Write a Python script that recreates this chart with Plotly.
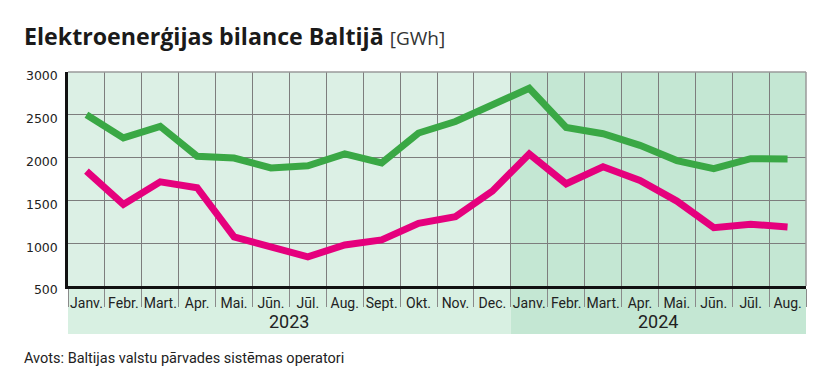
import plotly.graph_objects as go

months = ["Janv.", "Febr.", "Mart.", "Apr.", "Mai.", "Jūn.", "Jūl.", "Aug.", "Sept.", "Okt.", "Nov.", "Dec.",
          "Janv.", "Febr.", "Mart.", "Apr.", "Mai.", "Jūn.", "Jūl.", "Aug."]
years = ["2023", "2024"]
year_counts = [12, 8]

green_values = [2500, 2230, 2365, 2015, 1995, 1880, 1905, 2043, 1938, 2287, 2422, 2610,
                2810, 2352, 2279, 2143, 1965, 1872, 1988, 1985]
pink_values = [1841, 1453, 1717, 1648, 1073, 950, 841, 980, 1038, 1233, 1310, 1608,
               2043, 1694, 1892, 1733, 1492, 1182, 1221, 1190]

yticks = [500, 1000, 1500, 2000, 2500, 3000]

x = list(range(len(months)))
n = len(months)

OFF = 8  # page body margin offset
W, H = 820, 377
SL, SR, ST, SB = 68, 806, 72, 286
L, T = SL - OFF, ST - OFF
R = W - (SR - OFF)
B = H - (SB - OFF)
pw, ph = W - L - R, H - T - B

def px_x(p):
    return (p - OFF - L) / pw

def px_y(p):
    return (H - B - (p - OFF)) / ph

fig = go.Figure()
fig.add_trace(go.Scatter(x=x, y=green_values, mode="lines",
                         line=dict(color="#3aa845", width=7), hoverinfo="skip"))
fig.add_trace(go.Scatter(x=x, y=pink_values, mode="lines",
                         line=dict(color="#e5007d", width=7), hoverinfo="skip"))

shapes = []
start = -0.5
bg_colors = [("#dcf0e5", "#d8f0e2"), ("#c4e7d3", "#c4e7d3")]
for i, cnt in enumerate(year_counts):
    end = start + cnt
    shapes.append(dict(type="rect", xref="x", yref="paper", x0=start, x1=end, y0=0, y1=1,
                       fillcolor=bg_colors[i][0], line=dict(width=0), layer="below"))
    shapes.append(dict(type="rect", xref="x", yref="paper", x0=start, x1=end,
                       y0=px_y(334), y1=0,
                       fillcolor=bg_colors[i][1], line=dict(width=0), layer="below"))
    start = end
shapes.append(dict(type="line", xref="paper", yref="paper", x0=0, x1=1, y0=1, y1=1,
                   line=dict(color="#9a9a9a", width=1.5)))
shapes.append(dict(type="line", xref="paper", yref="paper", x0=1, x1=1, y0=0, y1=1,
                   line=dict(color="#9a9a9a", width=1.5)))

annotations = []
start = -0.5
for yr, cnt in zip(years, year_counts):
    annotations.append(dict(x=start + cnt / 2, y=px_y(321), xref="x", yref="paper", text=yr,
                            showarrow=False, font=dict(family="Roboto", size=18, color="#222"),
                            yanchor="middle"))
    start += cnt

annotations.append(dict(xref="paper", yref="paper", x=px_x(22), y=px_y(36), xanchor="left", yanchor="middle",
                        text="<b>Elektroenerģijas bilance Baltijā</b> <span style='font-size:19px;font-weight:normal;color:#333'>[GWh]</span>",
                        showarrow=False, font=dict(family="Open Sans", size=23.2, color="#1a1a1a")))
annotations.append(dict(xref="paper", yref="paper", x=px_x(22), y=px_y(358), xanchor="left", yanchor="middle",
                        text="Avots: Baltijas valstu pārvades sistēmas operatori",
                        showarrow=False, font=dict(family="Roboto", size=14.5, color="#222")))

fig.update_layout(
    width=W, height=H,
    margin=dict(l=L, r=R, t=T, b=B, autoexpand=False),
    paper_bgcolor="white", plot_bgcolor="rgba(0,0,0,0)",
    showlegend=False,
    shapes=shapes, annotations=annotations,
    xaxis=dict(range=[-0.5, n - 0.5], tickvals=x, ticktext=months, showgrid=False,
               tickfont=dict(family="Roboto", size=14, color="#222"),
               ticks="", ticklabelstandoff=2, automargin=False,
               showline=True, linecolor="#111", linewidth=3,
               minor=dict(tick0=0.5, dtick=1, showgrid=True, gridcolor="#7d7d7d", gridwidth=1,
                          ticks="outside", ticklen=18, tickcolor="#8a8a8a", tickwidth=1),
               zeroline=False, fixedrange=True),
    yaxis=dict(range=[500, 3000], tickvals=yticks, ticktext=[str(v) for v in yticks],
               showgrid=True, gridcolor="#7d7d7d", gridwidth=1, automargin=False,
               tickfont=dict(family="DejaVu Sans", size=12.5, color="#222"),
               ticks="", ticklabelshift=4, ticklabelstandoff=5,
               showline=True, linecolor="#111", linewidth=2.5, zeroline=False, fixedrange=True),
)

fig.write_html("out.html")
